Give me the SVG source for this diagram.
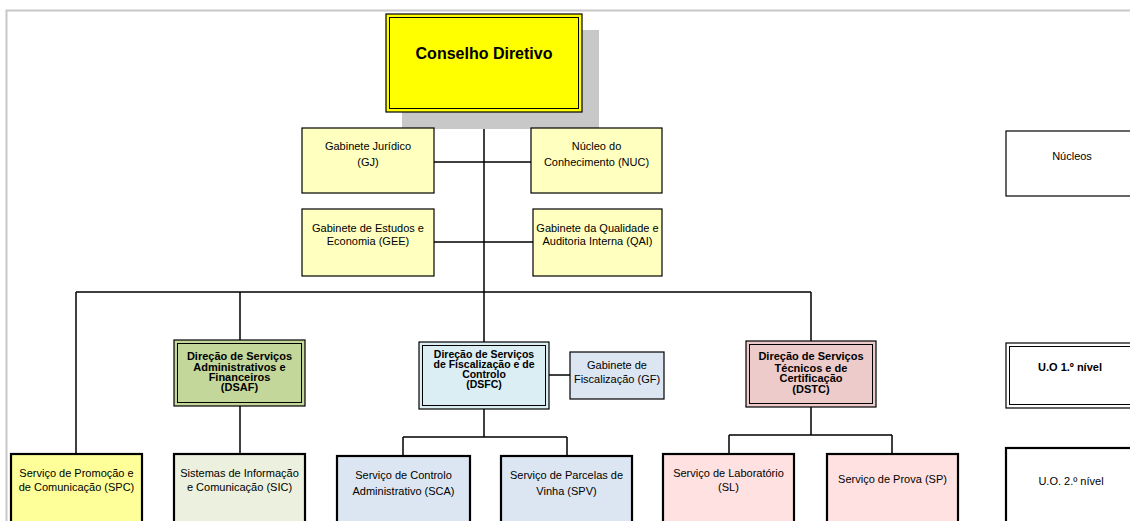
<svg xmlns="http://www.w3.org/2000/svg" width="1130" height="521" viewBox="0 0 1130 521">
<style>
text{font-family:"Liberation Sans",Arial,sans-serif;font-size:11px;fill:#000;text-anchor:middle}
.b{font-weight:bold}
.bs{font-weight:bold;font-size:10.5px}
.big{font-size:16px;font-weight:bold}
.box{stroke:#000;stroke-width:1.2}
.l2{stroke:#000;stroke-width:2.2}
.dbl{fill:none;stroke:#000;stroke-width:1}
.ln{stroke:#000;stroke-width:1.5;fill:none}
</style>
<rect width="1130" height="521" fill="#fff"/>
<path d="M6.5 521V10.5H1130" fill="none" stroke="#c8c8c8" stroke-width="2"/>
<g id="connectors">
<path class="ln" d="M484 112V292"/>
<path class="ln" d="M434 162H531M434 242H533"/>
<path class="ln" d="M76 292H811M76 292V454M240 292V340M484 292V342M811 292V341"/>
<path class="ln" d="M240 406V454"/>
<path class="ln" d="M549 375H570"/>
<path class="ln" d="M484 409V437M403 437H567M403 437V456M567 437V456"/>
<path class="ln" d="M811 407V435M729 435H892M729 435V454M892 435V454"/>
</g>
<g id="cd">
<rect x="402" y="30" width="197" height="99" fill="#c8c8c8"/>
<rect class="box" x="386" y="14" width="196" height="98" fill="#ffff00"/>
<rect class="dbl" x="389.5" y="17.5" width="189" height="91"/>
<text class="big" x="484" y="59">Conselho Diretivo</text>
</g>
<g id="gj">
<rect class="box" x="302" y="128" width="132" height="65" fill="#ffffc0"/>
<text x="368" y="150">Gabinete Jurídico</text>
<text x="368" y="166">(GJ)</text>
</g>
<g id="nuc">
<rect class="box" x="531" y="128" width="131" height="65" fill="#ffffc0"/>
<text x="596.5" y="150">Núcleo do</text>
<text x="596.5" y="166">Conhecimento (NUC)</text>
</g>
<g id="gee">
<rect class="box" x="302" y="209" width="132" height="67" fill="#ffffc0"/>
<text x="368" y="232">Gabinete de Estudos e</text>
<text x="368" y="245">Economia (GEE)</text>
</g>
<g id="qai">
<rect class="box" x="533" y="209" width="129" height="67" fill="#ffffc0"/>
<text x="597.5" y="232">Gabinete da Qualidade e</text>
<text x="597.5" y="245">Auditoria Interna (QAI)</text>
</g>
<g id="dsaf">
<rect class="box" x="174" y="340" width="131" height="66" fill="#c4d79b"/>
<rect class="dbl" x="177.5" y="343.5" width="124" height="59"/>
<text class="b" x="239.5" y="360">Direção de Serviços</text>
<text class="b" x="239.5" y="370.5">Administrativos e</text>
<text class="b" x="239.5" y="381">Financeiros</text>
<text class="b" x="239.5" y="391">(DSAF)</text>
</g>
<g id="dsfc">
<rect class="box" x="419" y="342" width="130" height="67" fill="#daeef3"/>
<rect class="dbl" x="422.5" y="345.5" width="123" height="60"/>
<text class="bs" x="484" y="357.5">Direção de Serviços</text>
<text class="bs" x="484" y="367.5">de Fiscalização e de</text>
<text class="bs" x="484" y="377.5">Controlo</text>
<text class="bs" x="484" y="387.5">(DSFC)</text>
</g>
<g id="gf">
<rect class="box" x="570" y="352" width="94" height="47" fill="#dce6f2"/>
<text x="617" y="369">Gabinete de</text>
<text x="617" y="383">Fiscalização (GF)</text>
</g>
<g id="dstc">
<rect class="box" x="746" y="341" width="130" height="66" fill="#edcbca"/>
<rect class="dbl" x="749.5" y="344.5" width="123" height="59"/>
<text class="b" x="811" y="360">Direção de Serviços</text>
<text class="b" x="811" y="371.5">Técnicos e de</text>
<text class="b" x="811" y="382">Certificação</text>
<text class="b" x="811" y="392.5">(DSTC)</text>
</g>
<g id="spc">
<rect class="l2" x="11" y="454" width="131" height="75" fill="#ffff99"/>
<text x="76.5" y="477">Serviço de Promoção e</text>
<text x="76.5" y="491">de Comunicação (SPC)</text>
</g>
<g id="sic">
<rect class="l2" x="174" y="454" width="131" height="75" fill="#ebf1de"/>
<text x="239.5" y="477">Sistemas de Informação</text>
<text x="239.5" y="491">e Comunicação (SIC)</text>
</g>
<g id="sca">
<rect class="l2" x="337" y="456" width="133" height="75" fill="#dce6f2"/>
<text x="403.5" y="479">Serviço de Controlo</text>
<text x="403.5" y="495">Administrativo (SCA)</text>
</g>
<g id="spv">
<rect class="l2" x="501" y="456" width="131" height="75" fill="#dce6f2"/>
<text x="566.5" y="479">Serviço de Parcelas de</text>
<text x="566.5" y="495">Vinha (SPV)</text>
</g>
<g id="sl">
<rect class="l2" x="663" y="454" width="131" height="75" fill="#ffe1e1"/>
<text x="728.5" y="477">Serviço de Laboratório</text>
<text x="728.5" y="491">(SL)</text>
</g>
<g id="sp">
<rect class="l2" x="827" y="454" width="131" height="75" fill="#ffe1e1"/>
<text x="892.5" y="483">Serviço de Prova (SP)</text>
</g>
<g id="leg-nucleos">
<rect class="box" x="1006" y="131" width="131" height="65" fill="#fff"/>
<text x="1072" y="160">Núcleos</text>
</g>
<g id="leg-uo1">
<rect class="box" x="1006" y="343" width="131" height="65" fill="#fff"/>
<rect class="dbl" x="1009.5" y="346.5" width="124" height="58"/>
<text class="b" x="1070" y="371">U.O 1.º nível</text>
</g>
<g id="leg-uo2">
<rect class="l2" x="1006" y="448" width="131" height="80" fill="#fff"/>
<text x="1071" y="485">U.O. 2.º nível</text>
</g>
</svg>
